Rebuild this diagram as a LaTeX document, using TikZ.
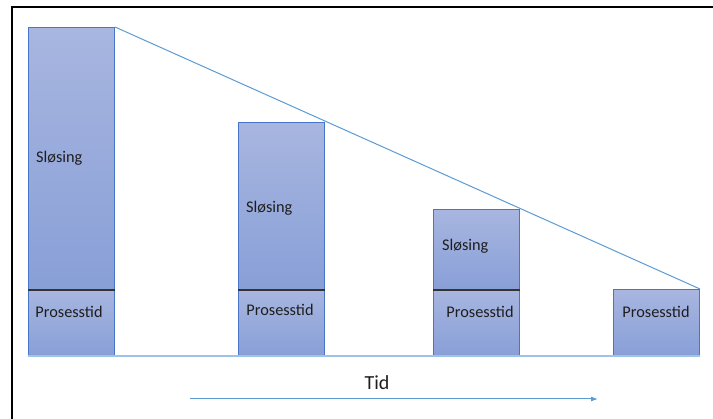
\documentclass[tikz,border=0pt]{standalone}
\usepackage{fontspec}
\setmainfont{Carlito}
\usetikzlibrary{arrows.meta}
\definecolor{barTop}{RGB}{168,182,224}
\definecolor{barBot}{RGB}{136,159,215}
\definecolor{barEdge}{RGB}{72,117,200}
\definecolor{lineBlue}{RGB}{91,155,213}
\definecolor{baseBlue}{RGB}{157,195,230}
\definecolor{txt}{RGB}{30,30,30}
\begin{document}
\begin{tikzpicture}[x=1pt,y=-1pt,
  seg/.style={draw=barEdge, line width=1pt, top color=barTop, bottom color=barBot,
    minimum width=86pt, inner sep=0pt, anchor=north west},
  lbl/.style={text=txt, inner sep=0pt, font=\fontsize{16.3}{19}\selectfont},
  divider/.style={draw=black!80, line width=1.2pt},
  frame/.style={draw=black, line width=2.6pt}]
\useasboundingbox (0,0) rectangle (713,419);
% frame
\draw[frame] (12,419) -- (12,7) -- (713,7);
% bar 1
\node[seg, minimum height=262pt] (w1) at (28,27) {};
\node[seg, minimum height=66pt] (p1) at (28,289) {};
% bar 2
\node[seg, minimum height=167pt] (w2) at (238,122) {};
\node[seg, minimum height=66pt] (p2) at (238,289) {};
% bar 3
\node[seg, minimum height=80pt] (w3) at (433,209) {};
\node[seg, minimum height=66pt] (p3) at (433,289) {};
% bar 4
\node[seg, minimum height=66pt] (p4) at (613,289) {};
% dividers
\draw[divider] (w1.south west) -- (w1.south east);
\draw[divider] (w2.south west) -- (w2.south east);
\draw[divider] (w3.south west) -- (w3.south east);
% labels
\node[lbl, anchor=west] (s1) at (36,158) {Sløsing};
\node[lbl, anchor=west] (s2) at (246,208) {Sløsing};
\node[lbl, anchor=west] (s3) at (442,246) {Sløsing};
\node[lbl] (t1) at (69,312) {Prosesstid};
\node[lbl] (t2) at (280,310) {Prosesstid};
\node[lbl] (t3) at (480,312) {Prosesstid};
\node[lbl] (t4) at (656,312) {Prosesstid};
% diagonal and baseline
\draw[lineBlue, line width=1pt] (w1.north east) -- (p4.north east);
\draw[baseBlue, line width=1.6pt] (p1.south west) -- (p4.south east);
% time arrow
\coordinate (a0) at (190,399);
\coordinate (a1) at (598,399);
\draw[lineBlue, line width=1pt, -{Latex[length=7pt,width=5pt]}] (a0) -- (a1);
\node[text=txt, inner sep=0pt, font=\fontsize{20}{23}\selectfont] (tid) at (377,383) {Tid};
\end{tikzpicture}
\end{document}
